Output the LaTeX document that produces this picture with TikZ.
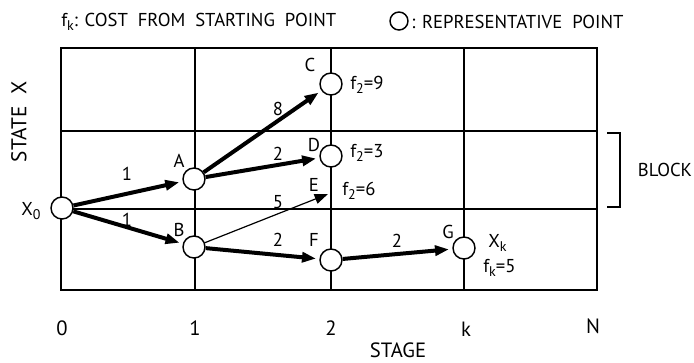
\documentclass[tikz,border=0pt]{standalone}
\usepackage{fontspec}
\setmainfont{PT Sans}
\usetikzlibrary{arrows.meta}
\newcommand\lowsub[1]{\raisebox{-0.45ex}{\fontsize{10.5}{11}\selectfont #1}}
\begin{document}
\begin{tikzpicture}[x=0.75pt,y=-0.75pt,
  grid/.style={line width=1.2pt},
  pnt/.style={circle,draw,fill=white,line width=1.1pt,minimum size=16.5pt,inner sep=0pt},
  lbl/.style={inner sep=0pt,font=\fontsize{14}{16}\selectfont},
  axl/.style={inner sep=0pt,anchor=base,font=\fontsize{15.5}{17}\selectfont},
  bigarrow/.style={-{Triangle[length=10.5pt,width=7.5pt]},line width=3pt,shorten >=2.5pt},
  thinarrow/.style={-{Triangle[length=10pt,width=7.5pt]},line width=0.9pt},
]
\useasboundingbox (0,0) rectangle (694,362);
% grid
\draw[grid] (61,48) rectangle (597,290);
\draw[grid] (195,48) -- (195,290);
\draw[grid] (331,48) -- (331,290);
\draw[grid] (464,48) -- (464,290);
\draw[grid] (61,131) -- (597,131);
\draw[grid] (61,209) -- (597,209);
% block bracket
\draw[line width=1pt] (607,133) -- (620,133) -- (620,207) -- (607,207);
\node[lbl] (block) at (665,170) {BLOCK};
% header
\node[lbl,anchor=west] (cost) at (61,22) {f\lowsub{k}: COST~ FROM~ STARTING~ POINT};
\node[pnt,minimum size=13.5pt] (legc) at (399,21) {};
\node[lbl,anchor=west] (rep) at (411,22) {: REPRESENTATIVE~ POINT};
% axis
\node[lbl,rotate=90,font=\fontsize{16}{18}\selectfont] (statex) at (19,122) {STATE~ X};
\node[axl] (s0) at (62,335) {0};
\node[axl] (s1) at (195,335) {1};
\node[axl] (s2) at (331,335) {2};
\node[axl] (sk) at (466,336) {k};
\node[axl] (sN) at (593,333) {N};
\node[axl] (stage) at (398,357) {STAGE};
% points
\node[pnt] (X0) at (62,208) {};
\node[pnt] (A) at (194,179) {};
\node[pnt] (B) at (194,247) {};
\node[pnt] (C) at (331,84) {};
\node[pnt] (D) at (331,156) {};
\coordinate (E) at (328,194);
\node[pnt] (F) at (331,260) {};
\node[pnt] (G) at (464,248) {};
% point labels
\node[lbl] (lX0) at (31,211) {X\lowsub{0}};
\node[lbl] (lA) at (179,161) {A};
\node[lbl] (lB) at (179,230) {B};
\node[lbl] (lC) at (310,65) {C};
\node[lbl] (lD) at (314,145) {D};
\node[lbl] (lE) at (314,185) {E};
\node[lbl] (lF) at (314,240) {F};
\node[lbl] (lG) at (448,232) {G};
\node[lbl,anchor=west] (f9) at (350,85) {f\lowsub{2}=9};
\node[lbl,anchor=west] (f3) at (350,153) {f\lowsub{2}=3};
\node[lbl,anchor=west] (f6) at (342,191) {f\lowsub{2}=6};
\node[lbl,anchor=west] (Xk) at (488,243) {X\lowsub{k}};
\node[lbl,anchor=west] (fk) at (483,268) {f\lowsub{k}=5};
% connectors
\draw[bigarrow] (X0) -- (A);
\draw[bigarrow] (X0) -- (B);
\draw[bigarrow] (A) -- (C);
\draw[bigarrow] (A) -- (D);
\draw[thinarrow] (B) -- (E);
\draw[bigarrow] (B) -- (F);
\draw[bigarrow] (F) -- (G);
% connector labels
\node[lbl] (c1) at (127,174) {1};
\node[lbl] (c2) at (127,220) {1};
\node[lbl] (c3) at (278,109) {8};
\node[lbl] (c4) at (278,154) {2};
\node[lbl] (c5) at (278,202) {5};
\node[lbl] (c6) at (278,240) {2};
\node[lbl] (c7) at (397,241) {2};
\end{tikzpicture}
\end{document}
